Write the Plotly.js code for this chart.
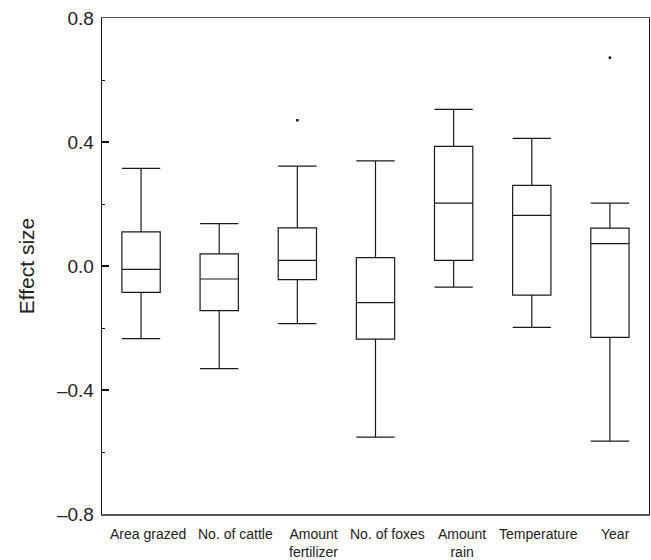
<!DOCTYPE html>
<html>
<head>
<meta charset="utf-8">
<script src="https://cdn.plot.ly/plotly-3.0.1.min.js"></script>
<style>html,body{margin:0;padding:0;background:#fff;}#chart{width:651px;height:560px;}</style>
</head>
<body>
<div id="chart"></div>
<script>
const categories = ["Area grazed", "No. of cattle", "Amount<br>fertilizer", "No. of foxes", "Amount<br>rain", "Temperature", "Year"];
const lowerWhisker = [-0.234, -0.331, -0.186, -0.552, -0.068, -0.198, -0.565];
const q1Values     = [-0.085, -0.144, -0.044, -0.236,  0.018, -0.094, -0.230];
const medianValues = [-0.011, -0.042,  0.018, -0.118,  0.203,  0.163,  0.072];
const q3Values     = [ 0.110,  0.039,  0.123,  0.027,  0.386,  0.260,  0.122];
const upperWhisker = [ 0.315,  0.137,  0.322,  0.339,  0.505,  0.412,  0.203];
const outlierCategories = ["Amount<br>fertilizer", "Year"];
const outlierValues = [0.470, 0.672];
const yTickValues = [-0.8, -0.4, 0.0, 0.4, 0.8];
const yTickLabels = ["\u20130.8", "\u20130.4", "0.0", "0.4", "0.8"];

const font = "Arial, 'Liberation Sans', sans-serif";
// horizontal nudges (px) of the category labels, as typeset in the original
const labelShift = [7, 16, 16, 12, 8, 7, 6];

const traces = [
  {
    type: "box",
    x: categories,
    q1: q1Values,
    median: medianValues,
    q3: q3Values,
    lowerfence: lowerWhisker,
    upperfence: upperWhisker,
    boxpoints: false,
    width: 0.49,
    whiskerwidth: 1,
    line: {color: "#1a1a1a", width: 1.2},
    fillcolor: "rgba(255,255,255,0)",
    hoverinfo: "skip",
    showlegend: false
  },
  {
    type: "scatter",
    mode: "markers",
    x: outlierCategories,
    y: outlierValues,
    marker: {color: "#111", size: 2.5, symbol: "square"},
    hoverinfo: "skip",
    showlegend: false
  }
];

const annotations = categories.map((c, i) => ({
  x: c,
  xref: "x",
  y: 0,
  yref: "paper",
  yanchor: "top",
  xanchor: "center",
  yshift: -10,
  xshift: labelShift[i],
  text: c,
  showarrow: false,
  align: "center",
  font: {size: 14, color: "#222", family: font}
}));

const layout = {
  width: 651,
  height: 560,
  margin: {l: 102, r: 2, t: 18, b: 46},
  paper_bgcolor: "#fff",
  plot_bgcolor: "#fff",
  font: {family: font, color: "#222"},
  showlegend: false,
  annotations: annotations,
  xaxis: {
    type: "category",
    categoryorder: "array",
    categoryarray: categories,
    range: [-0.5, 6.5],
    showgrid: false,
    zeroline: false,
    ticks: "",
    showticklabels: false,
    showline: true,
    linecolor: "#555",
    linewidth: 1.5,
    mirror: true,
    fixedrange: true
  },
  yaxis: {
    range: [-0.8, 0.8],
    tickvals: yTickValues,
    ticktext: yTickLabels,
    ticks: "inside",
    ticklen: 7,
    tickcolor: "#111",
    tickwidth: 1.2,
    ticklabelstandoff: 3,
    minor: {dtick: 0.2, tick0: 0, ticks: "inside", ticklen: 3, tickcolor: "#111", tickwidth: 1},
    showgrid: false,
    zeroline: false,
    showline: true,
    linecolor: "#111",
    linewidth: 1.3,
    mirror: true,
    tickfont: {size: 19, color: "#222", family: font},
    title: {text: "Effect size", font: {size: 21, color: "#222", family: font}, standoff: 16},
    fixedrange: true
  }
};

Plotly.newPlot("chart", traces, layout, {displayModeBar: false, staticPlot: true});
</script>
</body>
</html>
